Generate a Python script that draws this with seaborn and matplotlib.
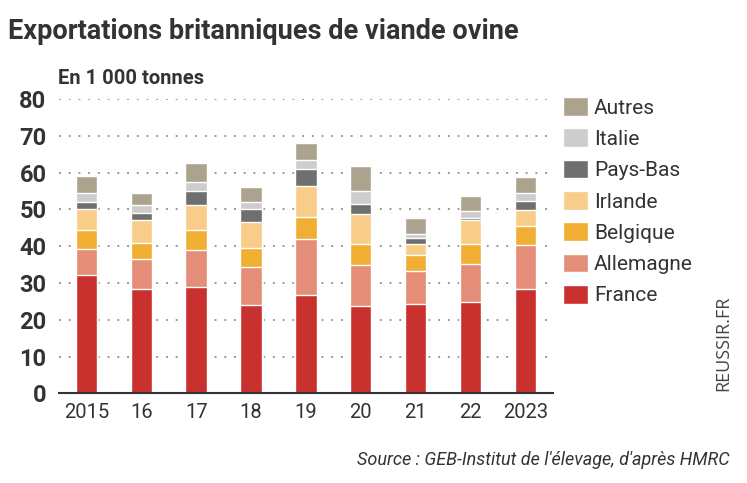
import numpy as np
import pandas as pd
import seaborn as sns
import matplotlib.pyplot as plt
from matplotlib.patches import Patch

years = ['2015', '16', '17', '18', '19', '20', '21', '22', '2023']
france = [32.1, 28.3, 29.0, 23.9, 26.7, 23.7, 24.3, 24.7, 28.5]
allemagne = [7.1, 8.2, 9.9, 10.5, 15.4, 11.2, 9.0, 10.4, 11.7]
belgique = [5.2, 4.4, 5.5, 5.2, 5.8, 5.6, 4.4, 5.4, 5.3]
irlande = [5.8, 6.1, 6.7, 6.9, 8.5, 8.4, 3.0, 6.5, 4.3]
pays_bas = [1.9, 2.1, 4.0, 3.5, 4.7, 2.7, 1.5, 0.8, 2.5]
italie = [2.4, 2.1, 2.4, 2.1, 2.3, 3.3, 1.0, 1.7, 2.2]
autres = [4.6, 3.3, 5.2, 4.0, 4.7, 6.9, 4.4, 4.1, 4.4]

countries = ['France', 'Allemagne', 'Belgique', 'Irlande', 'Pays-Bas', 'Italie', 'Autres']
colors = ['#c8312d', '#e48d78', '#f0ae33', '#f8cd8a', '#6f6f6f', '#cdcdcd', '#aba38d']

df = pd.DataFrame({'France': france, 'Allemagne': allemagne, 'Belgique': belgique,
                   'Irlande': irlande, 'Pays-Bas': pays_bas, 'Italie': italie,
                   'Autres': autres}, index=years)
cum = df[countries].cumsum(axis=1)

sns.set_style('white')
plt.rcParams['font.family'] = ['Roboto', 'DejaVu Sans']
dark = '#333333'

fig = plt.figure(figsize=(7.47, 4.83), dpi=100)
ax = fig.add_axes([0.079, 0.1857, 0.661, 0.609])

# draw from the top of the stack down so each layer covers the one above
for name, c in reversed(list(zip(countries, colors))):
    sns.barplot(x=years, y=cum[name].values, color=c, width=0.39,
                saturation=1, ax=ax, zorder=3)

ax.set_xlim(-0.5, 8.5)
ax.set_ylim(0, 80)
ax.set_yticks(range(0, 81, 10))
ax.set_yticklabels([str(v) for v in range(0, 81, 10)], fontsize=17,
                   fontweight='bold', color=dark)
ax.set_xticks(range(9))
ax.set_xticklabels(years, fontsize=14.5, color=dark)
ax.set_xticks(np.arange(-0.5, 9, 1), minor=True)
ax.tick_params(axis='x', which='major', length=0, pad=7)
ax.tick_params(axis='x', which='minor', length=7, width=1.3, color=dark, direction='out')
ax.tick_params(axis='y', length=0, pad=9)
ax.set_xlabel('')
ax.set_ylabel('')

ax.yaxis.grid(True, linestyle=(0, (1, 4)), color='#999999', linewidth=1.4, zorder=0)
ax.set_axisbelow(True)
for s in ['top', 'right', 'left']:
    ax.spines[s].set_visible(False)
ax.spines['bottom'].set_color(dark)
ax.spines['bottom'].set_linewidth(1.5)
ax.spines['bottom'].set_zorder(5)

handles = [Patch(facecolor=c, label=n) for n, c in zip(countries, colors)]
leg = ax.legend(handles=handles[::-1], loc='upper left', bbox_to_anchor=(1.003, 1.035),
                frameon=False, fontsize=15, handlelength=1.2, handleheight=1.0,
                handletextpad=0.3, labelspacing=0.52, borderaxespad=0)
for t in leg.get_texts():
    t.set_color(dark)

fig.text(0.011, 0.935, 'Exportations britanniques de viande ovine', fontsize=19.5,
         fontweight='bold', color=dark, va='center', ha='left')
fig.text(0.077, 0.838, 'En 1 000 tonnes', fontsize=14.5, fontweight='bold', color=dark,
         va='center', ha='left')
fig.text(0.977, 0.047, "Source : GEB-Institut de l'élevage, d'après HMRC", fontsize=13,
         style='italic', color=dark, ha='right', va='center')
fig.text(0.968, 0.19, 'REUSSIR.FR', fontsize=13, rotation=90, color='#444444',
         ha='center', va='bottom', family=['Open Sans', 'DejaVu Sans'])

fig.savefig('out.png', dpi=100, facecolor='white')
